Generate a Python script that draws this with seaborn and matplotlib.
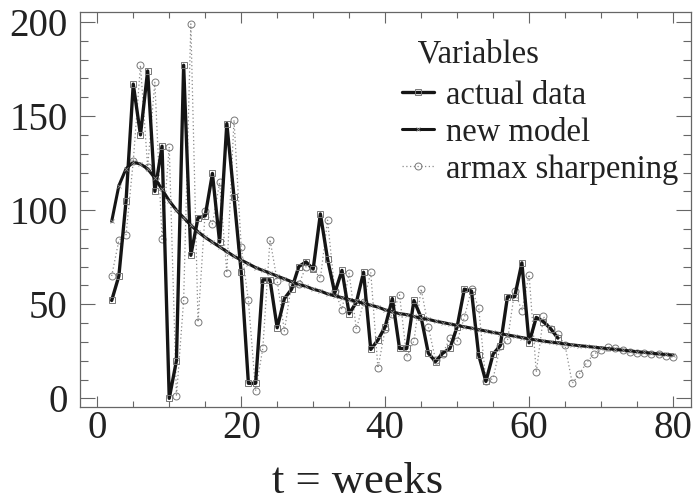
import numpy as np
import pandas as pd
import matplotlib
matplotlib.use("Agg")
import matplotlib.pyplot as plt
from matplotlib.ticker import MultipleLocator
import seaborn as sns

sns.set_style("ticks")
plt.rcParams['font.family'] = ['Liberation Serif', 'DejaVu Serif']

# weekly series
weeks_actual = list(range(2, 65))
actual_data = [52, 65, 105, 167, 140, 174, 110, 134, 0, 20,
               177, 76, 96, 97, 119.5, 83, 146, 107, 67, 8,
               8, 63, 63, 37.5, 53, 58, 70, 72.5, 68.7, 98,
               74, 56, 68, 45, 51, 67, 26, 31, 38, 53,
               26.5, 26.5, 52, 43, 24, 19.5, 24, 26.5, 38, 58,
               57, 23, 9, 23.5, 28, 54, 54, 72, 29.5, 43,
               40.7, 37, 32]

weeks_all = list(range(2, 81))
new_model = [94, 113, 122, 125.5, 124.5, 122, 117, 111, 105, 100,
             96, 92, 88.5, 85.5, 83, 80.5, 78, 75.5, 73.5, 71.5,
             69.5, 68, 66.5, 65, 63.5, 62, 60.5, 59.5, 58, 57,
             55.5, 54.5, 53.5, 52.5, 51.5, 50.5, 49.5, 48.5, 47, 46,
             45, 44.5, 43.5, 42.5, 42, 41, 40.3, 39.5, 38.8, 38,
             37.3, 36.5, 35.8, 35, 34.4, 33.7, 33, 32.3, 31.6, 31,
             30.4, 29.9, 29.4, 28.9, 28.4, 28, 27.6, 27.2, 26.8, 26.4,
             26, 25.6, 25.2, 24.8, 24.4, 24, 23.6, 23.3, 23]
armax_sharpening = [65, 84, 87, 126, 177, 123, 168, 84.5, 133.6, 1,
                    52, 199, 40.5, 99.5, 92.6, 114.7, 66.7, 148, 80.5, 52,
                    4, 26.5, 84.4, 62.5, 35.7, 61, 60.5, 70, 69, 63.7,
                    94.7, 57, 47.2, 66.5, 36.8, 51, 67, 16, 36.8, 45,
                    55, 22, 30.5, 58.2, 38, 20.5, 23.7, 32, 30.3, 43,
                    58, 48.2, 9, 10.5, 27.8, 30.8, 57, 46.5, 65.8, 13.8,
                    43.5, 37, 34, 28.2, 8, 13, 19, 23.5, 25.6, 27.4,
                    26.9, 25.6, 24.7, 24.2, 24.2, 23.5, 23.5, 22.6, 22.1]

fig = plt.figure(figsize=(6.93, 5.04), dpi=100)
ax = fig.add_axes([80/693, 1-407/504, 611/693, 395/504])

sns.lineplot(x=weeks_all, y=armax_sharpening, ax=ax, color='#8a8a8a', lw=0.9,
             linestyle=(0, (1, 2)), marker='o', markersize=5, mfc='none',
             mec='#777777', mew=0.7, label='armax sharpening')
sns.lineplot(x=weeks_actual, y=actual_data, ax=ax, color='#151515', lw=2.4,
             marker='s', markersize=4.5, mfc='none', mec='#777777', mew=0.7,
             label='actual data')
sns.lineplot(x=weeks_all, y=new_model, ax=ax, color='#151515', lw=2.2,
             marker='x', markersize=3.5, mec='#888888', mew=0.6,
             label='new model')

ax.set_xlim(-2.4, 82.5)
ax.set_ylim(-4.6, 205.3)
ax.xaxis.set_major_locator(MultipleLocator(20))
ax.xaxis.set_minor_locator(MultipleLocator(5))
ax.yaxis.set_major_locator(MultipleLocator(50))
ax.yaxis.set_minor_locator(MultipleLocator(10))
ax.tick_params(which='both', direction='in', top=True, right=True,
               color='#666666', width=0.8, labelsize=28, labelcolor='#222222')
ax.tick_params(axis='y', which='major', length=11, pad=9)
ax.tick_params(axis='y', which='minor', length=6)
ax.tick_params(axis='x', which='major', length=8, pad=2)
ax.tick_params(axis='x', which='minor', length=4)
for sp in ax.spines.values():
    sp.set_color('#666666')
    sp.set_linewidth(0.9)

ax.set_xlabel('t = weeks', fontsize=32, color='#222222')
ax.xaxis.set_label_coords(0.455, -0.14)
ax.set_ylabel('')

h, l = ax.get_legend_handles_labels()
order = [1, 2, 0]
leg = ax.legend([h[i] for i in order], [l[i] for i in order], title='  Variables',
                loc='upper left', bbox_to_anchor=(382/693, 1-19/504),
                bbox_transform=fig.transFigure, frameon=False, fontsize=23.5,
                title_fontsize=23.5, handlelength=1.0, handletextpad=0.35,
                labelspacing=0.2, borderpad=0.1, numpoints=1, alignment='left')
leg._legend_box.sep = 8
leg.get_title().set_color('#222222')
for t in leg.get_texts():
    t.set_color('#222222')

fig.savefig('out.png', dpi=100)
